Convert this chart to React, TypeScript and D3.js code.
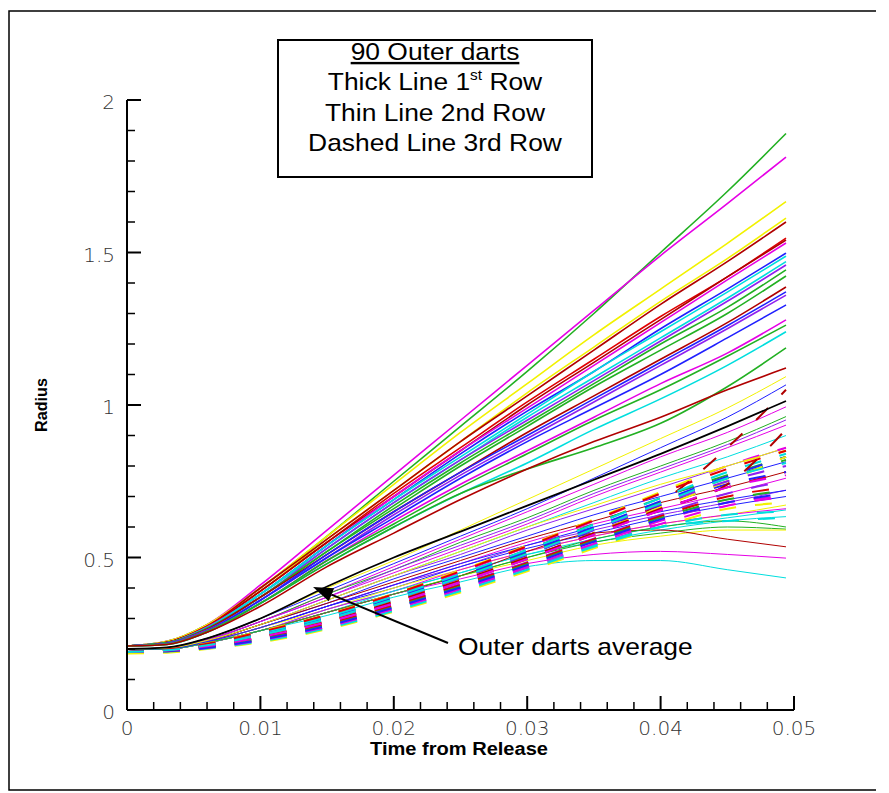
import React from "react";
import * as d3 from "d3";

// time samples (s) shared by every curve
const times = [0, 0.003, 0.006, 0.01, 0.015, 0.02, 0.025, 0.03, 0.035, 0.04, 0.045, 0.0494];

// Tecplot-like palette
const C: Record<string, string> = {
  green: "#22b022",
  magenta: "#e600e6",
  yellow: "#f2f200",
  darkred: "#b00000",
  red: "#e00000",
  blue: "#2020ff",
  cyan: "#00dede",
  purple: "#9020f0",
  black: "#000000",
};

// 1st row (thick lines)
const row1Colors = ["green", "magenta", "yellow", "yellow", "darkred", "red", "darkred", "magenta", "blue", "cyan", "cyan", "purple", "green", "green", "darkred", "blue", "purple", "blue", "magenta", "green", "cyan", "green", "darkred"];
const row1Values = [
  [0.21, 0.225, 0.28, 0.40, 0.57, 0.75, 0.93, 1.11, 1.30, 1.50, 1.70, 1.89],
  [0.21, 0.225, 0.28, 0.41, 0.59, 0.77, 0.95, 1.13, 1.31, 1.49, 1.66, 1.813],
  [0.21, 0.225, 0.28, 0.40, 0.57, 0.74, 0.91, 1.07, 1.23, 1.38, 1.53, 1.667],
  [0.21, 0.222, 0.275, 0.39, 0.56, 0.72, 0.88, 1.04, 1.19, 1.34, 1.48, 1.613],
  [0.21, 0.222, 0.275, 0.40, 0.56, 0.72, 0.88, 1.03, 1.18, 1.33, 1.47, 1.60],
  [0.21, 0.222, 0.275, 0.39, 0.55, 0.71, 0.86, 1.01, 1.15, 1.29, 1.42, 1.547],
  [0.21, 0.222, 0.273, 0.39, 0.55, 0.70, 0.85, 1.00, 1.14, 1.28, 1.42, 1.541],
  [0.21, 0.22, 0.272, 0.38, 0.54, 0.70, 0.85, 0.99, 1.13, 1.27, 1.41, 1.531],
  [0.21, 0.22, 0.27, 0.38, 0.54, 0.69, 0.84, 0.98, 1.11, 1.25, 1.38, 1.498],
  [0.21, 0.22, 0.27, 0.38, 0.54, 0.69, 0.83, 0.97, 1.11, 1.24, 1.37, 1.488],
  [0.21, 0.22, 0.27, 0.38, 0.53, 0.68, 0.82, 0.96, 1.09, 1.22, 1.35, 1.47],
  [0.21, 0.22, 0.268, 0.37, 0.53, 0.68, 0.82, 0.95, 1.08, 1.21, 1.34, 1.459],
  [0.21, 0.22, 0.268, 0.37, 0.52, 0.67, 0.81, 0.94, 1.07, 1.20, 1.32, 1.443],
  [0.21, 0.22, 0.265, 0.37, 0.52, 0.66, 0.80, 0.93, 1.06, 1.18, 1.30, 1.423],
  [0.21, 0.218, 0.265, 0.37, 0.51, 0.65, 0.78, 0.91, 1.03, 1.15, 1.27, 1.387],
  [0.21, 0.218, 0.262, 0.36, 0.51, 0.65, 0.78, 0.90, 1.02, 1.14, 1.26, 1.371],
  [0.21, 0.218, 0.262, 0.36, 0.50, 0.64, 0.77, 0.89, 1.01, 1.13, 1.25, 1.36],
  [0.21, 0.218, 0.26, 0.36, 0.50, 0.63, 0.76, 0.88, 0.99, 1.10, 1.22, 1.328],
  [0.21, 0.216, 0.258, 0.35, 0.49, 0.62, 0.74, 0.85, 0.96, 1.07, 1.17, 1.279],
  [0.21, 0.216, 0.258, 0.35, 0.49, 0.61, 0.73, 0.84, 0.95, 1.05, 1.16, 1.262],
  [0.21, 0.215, 0.255, 0.35, 0.48, 0.60, 0.71, 0.81, 0.92, 1.02, 1.13, 1.24],
  [0.21, 0.215, 0.255, 0.35, 0.48, 0.60, 0.71, 0.79, 0.86, 0.94, 1.06, 1.187],
  [0.21, 0.215, 0.255, 0.34, 0.47, 0.58, 0.69, 0.79, 0.88, 0.96, 1.05, 1.121],
];

// 2nd row (thin lines)
const row2Colors = ["yellow", "blue", "magenta", "green", "purple", "magenta", "cyan", "purple", "blue", "darkred", "magenta", "purple", "blue", "yellow", "cyan", "magenta", "cyan", "green", "yellow", "darkred", "magenta", "cyan", "green", "blue", "yellow"];
const row2Values = [
  [0.2, 0.205, 0.235, 0.30, 0.40, 0.49, 0.59, 0.69, 0.79, 0.89, 0.99, 1.093],
  [0.2, 0.205, 0.235, 0.30, 0.39, 0.48, 0.57, 0.66, 0.76, 0.86, 0.96, 1.066],
  [0.2, 0.204, 0.232, 0.29, 0.38, 0.47, 0.56, 0.65, 0.74, 0.83, 0.91, 0.994],
  [0.2, 0.204, 0.23, 0.29, 0.38, 0.46, 0.55, 0.63, 0.72, 0.80, 0.88, 0.962],
  [0.2, 0.203, 0.23, 0.29, 0.37, 0.46, 0.54, 0.62, 0.71, 0.79, 0.87, 0.951],
  [0.2, 0.203, 0.23, 0.29, 0.37, 0.45, 0.53, 0.61, 0.70, 0.78, 0.86, 0.934],
  [0.2, 0.203, 0.228, 0.28, 0.36, 0.44, 0.52, 0.60, 0.68, 0.76, 0.83, 0.90],
  [0.2, 0.202, 0.227, 0.28, 0.36, 0.44, 0.51, 0.59, 0.66, 0.73, 0.80, 0.859],
  [0.2, 0.202, 0.226, 0.28, 0.35, 0.43, 0.50, 0.57, 0.64, 0.70, 0.76, 0.814],
  [0.2, 0.202, 0.225, 0.28, 0.35, 0.42, 0.49, 0.56, 0.62, 0.68, 0.73, 0.781],
  [0.2, 0.202, 0.225, 0.27, 0.34, 0.41, 0.48, 0.55, 0.61, 0.66, 0.71, 0.76],
  [0.2, 0.201, 0.224, 0.27, 0.34, 0.41, 0.47, 0.54, 0.59, 0.64, 0.68, 0.721],
  [0.2, 0.201, 0.223, 0.27, 0.34, 0.40, 0.47, 0.53, 0.58, 0.63, 0.67, 0.70],
  [0.2, 0.201, 0.222, 0.27, 0.33, 0.40, 0.46, 0.52, 0.57, 0.61, 0.64, 0.672],
  [0.2, 0.201, 0.222, 0.26, 0.33, 0.39, 0.45, 0.51, 0.56, 0.60, 0.63, 0.656],
  [0.2, 0.201, 0.222, 0.26, 0.33, 0.39, 0.46, 0.52, 0.57, 0.61, 0.64, 0.66],
  [0.2, 0.2, 0.22, 0.26, 0.32, 0.39, 0.45, 0.51, 0.55, 0.59, 0.62, 0.634],
  [0.2, 0.2, 0.22, 0.26, 0.32, 0.38, 0.44, 0.50, 0.55, 0.58, 0.60, 0.593],
  [0.2, 0.2, 0.22, 0.26, 0.32, 0.38, 0.44, 0.49, 0.54, 0.57, 0.59, 0.59],
  [0.2, 0.2, 0.22, 0.26, 0.32, 0.38, 0.44, 0.52, 0.58, 0.59, 0.56, 0.535],
  [0.2, 0.2, 0.22, 0.26, 0.32, 0.38, 0.43, 0.48, 0.51, 0.52, 0.51, 0.498],
  [0.2, 0.2, 0.22, 0.26, 0.31, 0.37, 0.42, 0.47, 0.49, 0.49, 0.46, 0.433],
  [0.2, 0.2, 0.221, 0.26, 0.32, 0.38, 0.44, 0.50, 0.56, 0.60, 0.62, 0.60],
  [0.2, 0.201, 0.224, 0.27, 0.34, 0.41, 0.48, 0.54, 0.60, 0.65, 0.69, 0.72],
  [0.2, 0.203, 0.228, 0.28, 0.36, 0.44, 0.52, 0.60, 0.67, 0.74, 0.80, 0.86],
];

// 3rd row (dashed lines)
const row3Colors = ["magenta", "yellow", "cyan", "green", "red", "blue", "purple", "magenta", "yellow", "cyan", "green", "red", "blue", "magenta", "darkred", "yellow", "cyan", "green", "purple", "red", "blue", "darkred", "magenta", "cyan"];
const row3Values = [
  [0.19, 0.193, 0.204, 0.228, 0.272, 0.33, 0.395, 0.465, 0.54, 0.61, 0.67, 0.70],
  [0.185, 0.188, 0.2, 0.222, 0.265, 0.322, 0.385, 0.455, 0.53, 0.60, 0.66, 0.68],
  [0.19, 0.192, 0.202, 0.225, 0.268, 0.325, 0.39, 0.46, 0.535, 0.60, 0.64, 0.65],
  [0.19, 0.197, 0.215, 0.252, 0.305, 0.372, 0.445, 0.525, 0.61, 0.695, 0.77, 0.83],
  [0.19, 0.195, 0.21, 0.24, 0.29, 0.352, 0.42, 0.495, 0.575, 0.655, 0.73, 0.78],
  [0.19, 0.195, 0.211, 0.244, 0.295, 0.36, 0.43, 0.508, 0.59, 0.67, 0.74, 0.78],
  [0.19, 0.194, 0.207, 0.236, 0.284, 0.345, 0.413, 0.485, 0.562, 0.64, 0.71, 0.75],
  [0.19, 0.197, 0.216, 0.255, 0.31, 0.378, 0.452, 0.535, 0.62, 0.71, 0.80, 0.86],
  [0.19, 0.198, 0.218, 0.258, 0.313, 0.382, 0.458, 0.54, 0.625, 0.715, 0.80, 0.85],
  [0.19, 0.193, 0.203, 0.23, 0.275, 0.335, 0.40, 0.47, 0.54, 0.60, 0.62, 0.63],
  [0.19, 0.196, 0.213, 0.248, 0.30, 0.365, 0.438, 0.515, 0.595, 0.68, 0.76, 0.82],
  [0.19, 0.194, 0.206, 0.234, 0.282, 0.342, 0.41, 0.482, 0.56, 0.635, 0.70, 0.73],
  [0.19, 0.197, 0.214, 0.25, 0.303, 0.37, 0.442, 0.52, 0.60, 0.685, 0.765, 0.83],
  [0.19, 0.193, 0.203, 0.229, 0.273, 0.332, 0.398, 0.47, 0.545, 0.62, 0.68, 0.70],
  [0.19, 0.195, 0.21, 0.24, 0.29, 0.355, 0.425, 0.50, 0.58, 0.68, 0.86, 1.05],
  [0.19, 0.195, 0.21, 0.242, 0.292, 0.356, 0.426, 0.50, 0.58, 0.665, 0.75, 0.83],
  [0.19, 0.197, 0.215, 0.252, 0.306, 0.373, 0.446, 0.525, 0.608, 0.695, 0.78, 0.84],
  [0.19, 0.193, 0.205, 0.232, 0.278, 0.338, 0.405, 0.478, 0.555, 0.63, 0.69, 0.72],
  [0.19, 0.196, 0.212, 0.246, 0.297, 0.362, 0.433, 0.51, 0.592, 0.675, 0.75, 0.80],
  [0.19, 0.198, 0.217, 0.256, 0.312, 0.38, 0.455, 0.537, 0.622, 0.71, 0.79, 0.85],
  [0.19, 0.193, 0.204, 0.23, 0.276, 0.336, 0.402, 0.475, 0.552, 0.625, 0.68, 0.71],
  [0.19, 0.195, 0.21, 0.24, 0.29, 0.355, 0.425, 0.50, 0.58, 0.66, 0.74, 0.92],
  [0.19, 0.195, 0.209, 0.239, 0.288, 0.35, 0.42, 0.495, 0.575, 0.655, 0.73, 0.77],
  [0.19, 0.196, 0.212, 0.246, 0.298, 0.363, 0.435, 0.512, 0.594, 0.678, 0.76, 0.81],
];

// outer darts average
const averageValues = [0.2, 0.205, 0.235, 0.30, 0.405, 0.50, 0.585, 0.67, 0.755, 0.84, 0.93, 1.013];

const xTicks = [0, 0.01, 0.02, 0.03, 0.04, 0.05];
const xTickLabels = ["0", "0.01", "0.02", "0.03", "0.04", "0.05"];
const yTicks = [0, 0.5, 1, 1.5, 2];
const yTickLabels = ["0", "0.5", "1", "1.5", "2"];

const legendLines = ["90 Outer darts", "Thick Line 1", "Thin Line 2nd Row", "Dashed Line 3rd Row"];
const annotation = "Outer darts average";

export default function App() {
  const W = 889, H = 793;
  const x = d3.scaleLinear().domain([0, 0.05]).range([127, 794]);
  const y = d3.scaleLinear().domain([0, 2]).range([710, 100]);
  const line = d3
    .line<number>()
    .x((_, i) => x(times[i]))
    .y((v) => y(v))
    .curve(d3.curveMonotoneX);

  const xMinor = d3.range(0, 0.0501, 0.002).filter((v) => Math.abs(v * 100 - Math.round(v * 100)) > 1e-6);
  const yMinor = d3.range(0, 2.001, 0.1).filter((v) => Math.abs(v * 2 - Math.round(v * 2)) > 1e-6);

  const tickFont = "'DejaVu Sans', 'Liberation Sans', sans-serif";
  const boldFont = "'Liberation Sans', Arial, sans-serif";
  const textFont = "Arial, 'Liberation Sans', sans-serif";
  const arrowTip: [number, number] = [313, 587];
  const arrowTail: [number, number] = [448, 643];
  const ang = Math.atan2(arrowTail[1] - arrowTip[1], arrowTail[0] - arrowTip[0]);
  const ah = 20, aw = 7;
  const bx = arrowTip[0] + ah * Math.cos(ang), by = arrowTip[1] + ah * Math.sin(ang);
  const head = [
    arrowTip,
    [bx + aw * Math.sin(ang), by - aw * Math.cos(ang)],
    [bx - aw * Math.sin(ang), by + aw * Math.cos(ang)],
  ];
  const sx = 1.1;

  return (
    <svg width={W} height={H} style={{ position: "absolute", left: 0, top: 0, background: "#fff" }}>
      <rect x={0} y={0} width={W} height={H} fill="#fff" />
      {/* frame */}
      <path d={`M876,11 H9 V790 H876`} fill="none" stroke="#000" strokeWidth={1.5} />

      {/* row 1 thick */}
      {row1Values.map((vals, i) => (
        <path key={"r1" + i} d={line(vals) || ""} fill="none" stroke={C[row1Colors[i]]} strokeWidth={1.6} />
      ))}
      {/* row 2 thin */}
      {row2Values.map((vals, i) => (
        <path key={"r2" + i} d={line(vals) || ""} fill="none" stroke={C[row2Colors[i]]} strokeWidth={1} />
      ))}
      {/* row 3 dashed */}
      {row3Values.map((vals, i) => (
        <path key={"r3" + i} d={line(vals) || ""} fill="none" stroke={C[row3Colors[i]]} strokeWidth={2} strokeDasharray="17 19" />
      ))}
      {/* average */}
      <path d={line(averageValues) || ""} fill="none" stroke="#000" strokeWidth={1.8} />

      {/* axes */}
      <line x1={x(0)} x2={x(0.05)} y1={y(0)} y2={y(0)} stroke="#000" strokeWidth={2} />
      <line x1={x(0)} x2={x(0)} y1={y(0)} y2={y(2)} stroke="#000" strokeWidth={2} />
      {xTicks.map((t) => (
        <line key={"xt" + t} x1={x(t)} x2={x(t)} y1={y(0)} y2={y(0) - 14} stroke="#000" strokeWidth={2} />
      ))}
      {xMinor.map((t) => (
        <line key={"xm" + t} x1={x(t)} x2={x(t)} y1={y(0)} y2={y(0) - 8} stroke="#000" strokeWidth={1.5} />
      ))}
      {yTicks.map((t) => (
        <line key={"yt" + t} x1={x(0)} x2={x(0) + 14} y1={y(t)} y2={y(t)} stroke="#000" strokeWidth={2} />
      ))}
      {yMinor.map((t) => (
        <line key={"ym" + t} x1={x(0)} x2={x(0) + 8} y1={y(t)} y2={y(t)} stroke="#000" strokeWidth={1.5} />
      ))}
      {xTicks.map((t, i) => (
        <text key={"xl" + t} x={x(t)} y={735} textAnchor="middle" fontFamily={tickFont} fontSize={20} fill="#333" fontWeight={200}>
          {xTickLabels[i]}
        </text>
      ))}
      {yTicks.map((t, i) => (
        <text key={"yl" + t} x={115} y={y(t) + 9} textAnchor="end" fontFamily={tickFont} fontSize={20} fill="#333" fontWeight={200}>
          {yTickLabels[i]}
        </text>
      ))}
      <text x={459} y={755} textAnchor="middle" fontFamily={boldFont} fontWeight="bold" fontSize={18} fill="#000" textLength={178} lengthAdjust="spacingAndGlyphs">
        Time from Release
      </text>
      <text transform="translate(47,405) rotate(-90)" textAnchor="middle" fontFamily={boldFont} fontWeight="bold" fontSize={16} fill="#000" textLength={54} lengthAdjust="spacingAndGlyphs">
        Radius
      </text>

      {/* legend box */}
      <rect x={278} y={40} width={314} height={137} fill="#fff" stroke="#000" strokeWidth={2} />
      <g fontFamily={textFont} fontSize={24} fill="#000" textAnchor="middle">
        <text transform={`translate(435,60) scale(${sx},1)`} textDecoration="underline">{legendLines[0]}</text>
        <text transform={`translate(435,90) scale(${sx},1)`}>
          {legendLines[1]}
          <tspan fontSize={14} dy={-10}>st</tspan>
          <tspan dy={10}> Row</tspan>
        </text>
        <text transform={`translate(435,121) scale(${sx},1)`}>{legendLines[2]}</text>
        <text transform={`translate(435,151) scale(${sx},1)`}>{legendLines[3]}</text>
      </g>

      {/* annotation */}
      <line x1={arrowTail[0]} y1={arrowTail[1]} x2={bx} y2={by} stroke="#000" strokeWidth={2} />
      <polygon points={head.map((p) => p.join(",")).join(" ")} fill="#000" />
      <text transform={`translate(458,655) scale(${sx},1)`} fontFamily={textFont} fontSize={24} fill="#000">
        {annotation}
      </text>
    </svg>
  );
}
